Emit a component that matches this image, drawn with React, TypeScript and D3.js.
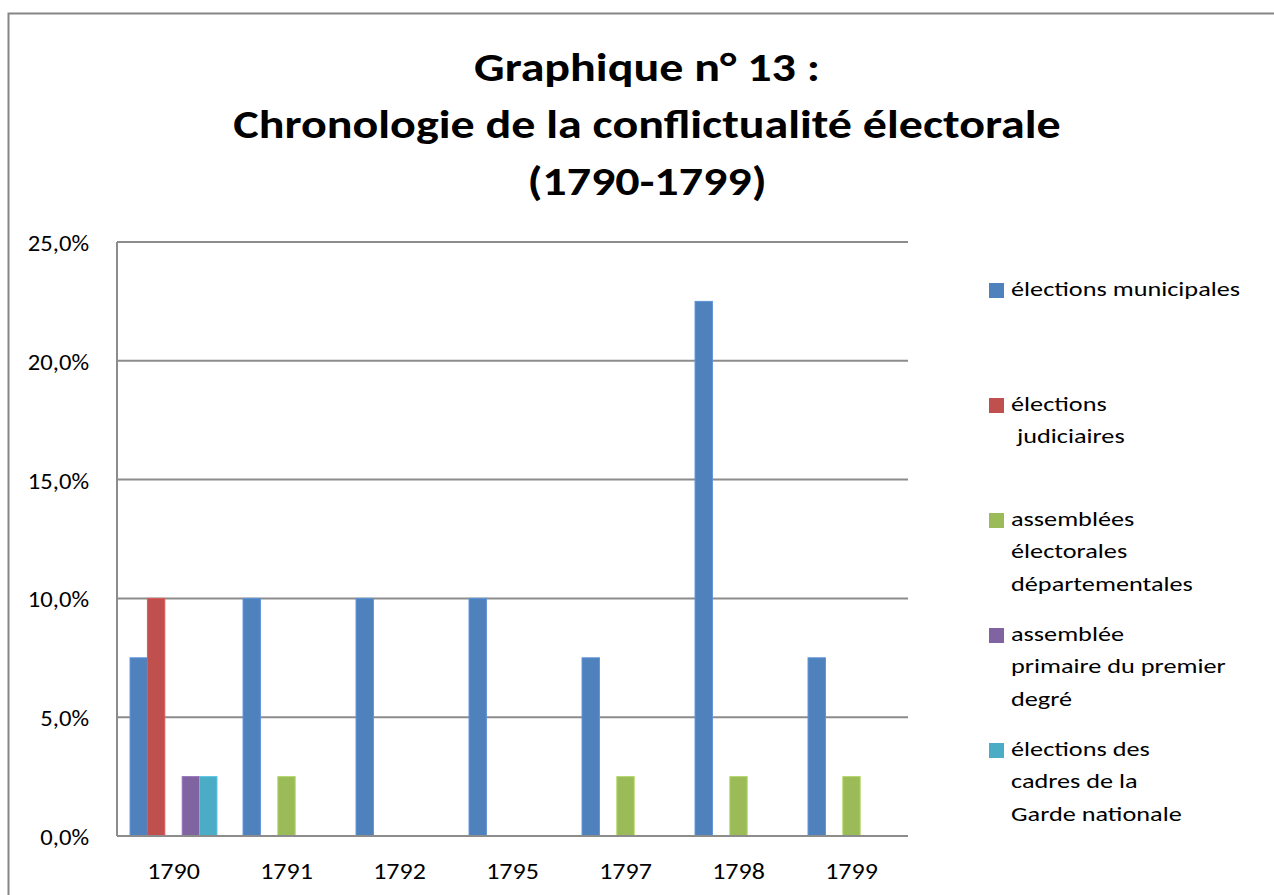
import React, { useEffect, useRef } from 'react';
import * as d3 from 'd3';

const years = ['1790', '1791', '1792', '1795', '1797', '1798', '1799'];
const seriesNames = [
  ['élections municipales'],
  ['élections', ' judiciaires'],
  ['assemblées', 'électorales', 'départementales'],
  ['assemblée', 'primaire du premier', 'degré'],
  ['élections des', 'cadres de la', 'Garde nationale'],
];
const colors = ['#4F81BD', '#C0504D', '#9BBB59', '#8064A2', '#4BACC6'];
const municipales = [7.5, 10, 10, 10, 7.5, 22.5, 7.5];
const judiciaires = [10, 0, 0, 0, 0, 0, 0];
const departementales = [0, 2.5, 0, 0, 2.5, 2.5, 2.5];
const primaire = [2.5, 0, 0, 0, 0, 0, 0];
const gardeNationale = [2.5, 0, 0, 0, 0, 0, 0];
const yTicks = [0, 5, 10, 15, 20, 25];
const titleLines = ['Graphique n° 13 :', 'Chronologie de la conflictualité électorale', '(1790-1799)'];

const FONT = 'Carlito, Calibri, Lato, sans-serif';
// the source picture is stretched sideways, so text gets a horizontal scale
const LEGEND_STRETCH = 1.25;
const Y_STRETCH = 1.12;
const X_STRETCH = 1.18;
const TITLE_STRETCH = 1.2;

const App = () => {
  const ref = useRef<SVGSVGElement>(null);

  useEffect(() => {
    const svg = d3.select(ref.current);
    svg.selectAll('*').remove();

    const series = [municipales, judiciaires, departementales, primaire, gardeNationale];
    const left = 117, right = 908, top = 242, bottom = 836;

    // frame around the whole chart
    svg.append('rect')
      .attr('x', 8.5).attr('y', 13.5)
      .attr('width', 1300).attr('height', 1000)
      .attr('fill', '#fff')
      .attr('stroke', '#868686')
      .attr('stroke-width', 2);

    const title = svg.append('text')
      .attr('transform', `translate(647,81) scale(${TITLE_STRETCH},1)`)
      .attr('text-anchor', 'middle')
      .attr('font-family', FONT)
      .attr('font-weight', 'bold')
      .attr('font-size', 40)
      .attr('fill', '#000');
    titleLines.forEach((t, i) => {
      title.append('tspan').attr('x', 0).attr('y', i * 57).text(t);
    });

    const x0 = d3.scaleBand().domain(years).range([left, right]);
    const x1 = d3.scaleBand()
      .domain(d3.range(series.length).map(String))
      .range([0, x0.bandwidth()])
      .paddingOuter(0.75);
    const y = d3.scaleLinear().domain([0, 25]).range([bottom, top]);

    // gridlines
    svg.append('g')
      .selectAll('line')
      .data(yTicks)
      .enter()
      .append('line')
      .attr('x1', left).attr('x2', right)
      .attr('y1', d => y(d)).attr('y2', d => y(d))
      .attr('stroke', '#8c8c8c')
      .attr('stroke-width', 2);

    svg.append('line')
      .attr('x1', left).attr('x2', left)
      .attr('y1', top).attr('y2', bottom)
      .attr('stroke', '#8c8c8c')
      .attr('stroke-width', 2);

    svg.append('g')
      .selectAll('text')
      .data(yTicks)
      .enter()
      .append('text')
      .attr('transform', d => `translate(89,${y(d) + 9}) scale(${Y_STRETCH},1)`)
      .attr('text-anchor', 'end')
      .attr('font-family', FONT)
      .attr('font-size', 22)
      .text(d => d.toFixed(1).replace('.', ',') + '%');

    // bars
    series.forEach((vals, si) => {
      const pts = vals.map((v, i) => ({ v, year: years[i] })).filter(d => d.v > 0);
      svg.append('g')
        .selectAll('rect')
        .data(pts)
        .enter()
        .append('rect')
        .attr('x', d => (x0(d.year) as number) + (x1(String(si)) as number))
        .attr('y', d => y(d.v))
        .attr('width', x1.bandwidth())
        .attr('height', d => bottom - y(d.v))
        .attr('fill', colors[si])
        .attr('stroke', d3.color(colors[si])!.brighter(0.4).toString())
        .attr('stroke-width', 1);
    });

    svg.append('line')
      .attr('x1', left).attr('x2', right)
      .attr('y1', bottom).attr('y2', bottom)
      .attr('stroke', '#8c8c8c')
      .attr('stroke-width', 2);

    svg.append('g')
      .selectAll('text')
      .data(years)
      .enter()
      .append('text')
      .attr('transform', d => `translate(${(x0(d) as number) + x0.bandwidth() / 2},879) scale(${X_STRETCH},1)`)
      .attr('text-anchor', 'middle')
      .attr('font-family', FONT)
      .attr('font-size', 22)
      .text(d => d);

    // legend
    const legendTops = [290, 405, 520, 635, 750];
    seriesNames.forEach((lines, si) => {
      const g = svg.append('g');
      g.append('rect')
        .attr('x', 989).attr('y', legendTops[si] - 7)
        .attr('width', 15).attr('height', 15)
        .attr('fill', colors[si]);
      const t = g.append('text')
        .attr('transform', `translate(1011,${legendTops[si] + 6}) scale(${LEGEND_STRETCH},1)`)
        .attr('font-family', FONT)
        .attr('font-size', 21)
        .style('white-space', 'pre');
      lines.forEach((l, li) => {
        t.append('tspan').attr('x', 0).attr('y', li * 32.5).text(l);
      });
    });
  }, []);

  return (
    <svg
      ref={ref}
      width={1274}
      height={895}
      style={{ position: 'absolute', left: 0, top: 0, background: '#fff' }}
    ></svg>
  );
};

export default App;
